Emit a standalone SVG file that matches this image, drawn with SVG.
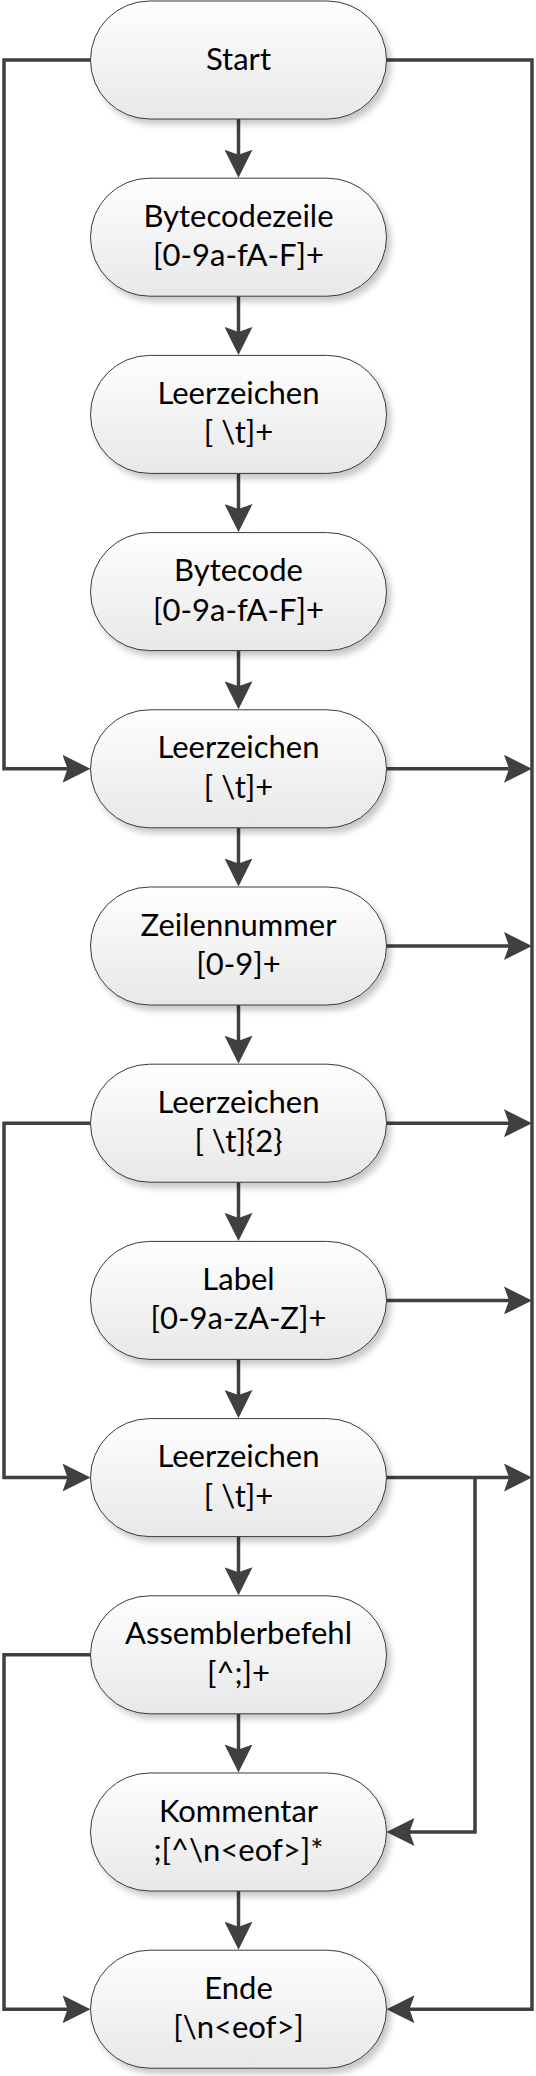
<svg xmlns="http://www.w3.org/2000/svg" width="536" height="2076" viewBox="0 0 536 2076">
<style>
.node rect{fill:url(#g);stroke:#3a3a3a;stroke-width:1;filter:url(#sh)}
.node text{font-family:Lato,"Liberation Sans",sans-serif;font-size:31px;fill:#000;text-anchor:middle}
.conn path{fill:none;stroke:#404040;stroke-width:3.5}
.conn path.a{marker-end:url(#ah)}
</style>
<defs>
<linearGradient id="g" x1="0" y1="0" x2="0" y2="1">
<stop offset="0" stop-color="#fefefe"/>
<stop offset="1" stop-color="#e8e8e8"/>
</linearGradient>
<filter id="sh" x="-10%" y="-10%" width="125%" height="135%">
<feDropShadow dx="4" dy="5" stdDeviation="3" flood-color="#000" flood-opacity="0.22"/>
</filter>
<marker id="ah" viewBox="0 0 28 28" refX="20" refY="14" markerWidth="28" markerHeight="28" markerUnits="userSpaceOnUse" orient="auto">
<path d="M0,0 L28,14 L0,28 L5,14 Z" fill="#404040"/>
</marker>
</defs>
<rect width="536" height="2076" fill="#fff"/>
<g class="conn" id="connectors">
<path class="a" d="M238.5,119 V169.7"/>
<path class="a" d="M238.5,296.2 V346.9"/>
<path class="a" d="M238.5,473.4 V524.1"/>
<path class="a" d="M238.5,650.6 V701.3"/>
<path class="a" d="M238.5,827.8 V878.5"/>
<path class="a" d="M238.5,1005 V1055.7"/>
<path class="a" d="M238.5,1182.2 V1232.9"/>
<path class="a" d="M238.5,1359.4 V1410.1"/>
<path class="a" d="M238.5,1536.6 V1587.3"/>
<path class="a" d="M238.5,1713.8 V1764.5"/>
<path class="a" d="M238.5,1891 V1941.7"/>
<path class="a" d="M90.5,60 H4 V768.8 H82.5"/>
<path class="a" d="M386.5,60 H532 V2009.2 H394.5"/>
<path class="a" d="M386.5,768.8 H524"/>
<path class="a" d="M386.5,946 H524"/>
<path class="a" d="M386.5,1123.2 H524"/>
<path class="a" d="M386.5,1300.4 H524"/>
<path class="a" d="M386.5,1477.6 H524"/>
<path class="a" d="M475,1477.6 V1832 H394.5"/>
<path class="a" d="M90.5,1123.2 H4 V1477.6 H82.5"/>
<path class="a" d="M90.5,1654.8 H4 V2009.2 H82.5"/>
</g>
<g class="node" id="n0"><rect x="90.5" y="1" width="296" height="118" rx="59" ry="59"/><text x="238.5" y="70">Start</text></g>
<g class="node" id="n1"><rect x="90.5" y="178.2" width="296" height="118" rx="59" ry="59"/><text x="238.5" y="226.7">Bytecodezeile</text><text x="238.5" y="266.2">[0-9a-fA-F]+</text></g>
<g class="node" id="n2"><rect x="90.5" y="355.4" width="296" height="118" rx="59" ry="59"/><text x="238.5" y="403.9">Leerzeichen</text><text x="238.5" y="443.4">[ \t]+</text></g>
<g class="node" id="n3"><rect x="90.5" y="532.6" width="296" height="118" rx="59" ry="59"/><text x="238.5" y="581.1">Bytecode</text><text x="238.5" y="620.6">[0-9a-fA-F]+</text></g>
<g class="node" id="n4"><rect x="90.5" y="709.8" width="296" height="118" rx="59" ry="59"/><text x="238.5" y="758.3">Leerzeichen</text><text x="238.5" y="797.8">[ \t]+</text></g>
<g class="node" id="n5"><rect x="90.5" y="887" width="296" height="118" rx="59" ry="59"/><text x="238.5" y="935.5">Zeilennummer</text><text x="238.5" y="975">[0-9]+</text></g>
<g class="node" id="n6"><rect x="90.5" y="1064.2" width="296" height="118" rx="59" ry="59"/><text x="238.5" y="1112.7">Leerzeichen</text><text x="238.5" y="1152.2">[ \t]{2}</text></g>
<g class="node" id="n7"><rect x="90.5" y="1241.4" width="296" height="118" rx="59" ry="59"/><text x="238.5" y="1289.9">Label</text><text x="238.5" y="1329.4">[0-9a-zA-Z]+</text></g>
<g class="node" id="n8"><rect x="90.5" y="1418.6" width="296" height="118" rx="59" ry="59"/><text x="238.5" y="1467.1">Leerzeichen</text><text x="238.5" y="1506.6">[ \t]+</text></g>
<g class="node" id="n9"><rect x="90.5" y="1595.8" width="296" height="118" rx="59" ry="59"/><text x="238.5" y="1644.3">Assemblerbefehl</text><text x="238.5" y="1683.8">[^;]+</text></g>
<g class="node" id="n10"><rect x="90.5" y="1773" width="296" height="118" rx="59" ry="59"/><text x="238.5" y="1821.5">Kommentar</text><text x="238.5" y="1861">;[^\n&lt;eof&gt;]*</text></g>
<g class="node" id="n11"><rect x="90.5" y="1950.2" width="296" height="118" rx="59" ry="59"/><text x="238.5" y="1998.7">Ende</text><text x="238.5" y="2038.2">[\n&lt;eof&gt;]</text></g>
</svg>
